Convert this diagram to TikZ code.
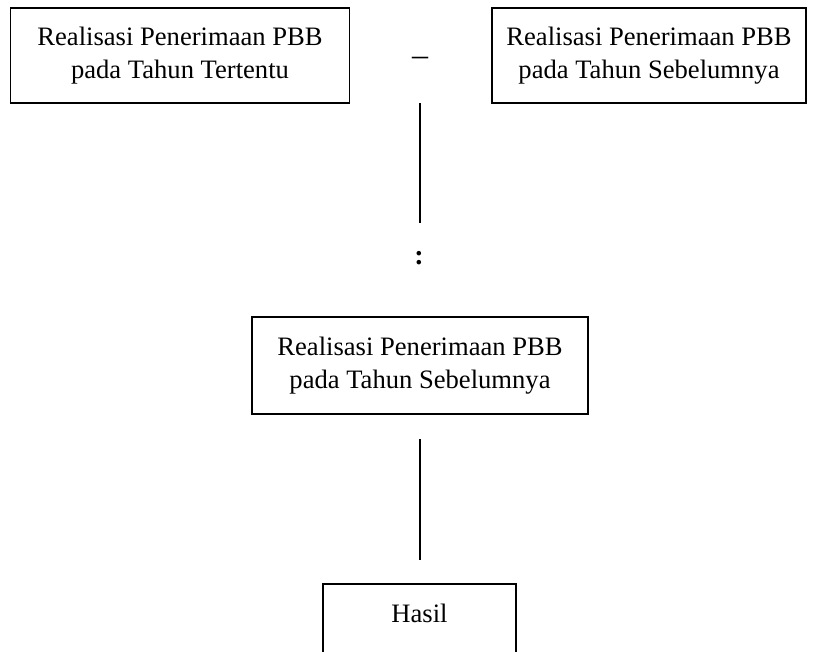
\documentclass[tikz,border=0pt]{standalone}
\usepackage{fontspec}
\setmainfont{Liberation Serif}
\begin{document}
\begin{tikzpicture}[x=1pt,y=-1pt,
  box/.style={draw,line width=1.6pt,inner sep=0pt,align=center,
    font=\fontsize{26.6}{33}\selectfont},
  lbl/.style={inner sep=0pt,font=\fontsize{26.6}{33}\selectfont},
  conn/.style={line width=1.6pt}]
\useasboundingbox (0,0) rectangle (816,651);
\clip (0,0) rectangle (816,651);
\node[box,minimum width=339pt,minimum height=95pt] (b1) at (180,55.5)
  {Realisasi Penerimaan PBB\\pada Tahun Tertentu};
\node[box,minimum width=314pt,minimum height=95pt] (b2) at (649,55.5)
  {Realisasi Penerimaan PBB\\pada Tahun Sebelumnya};
\node[lbl,font=\fontsize{32}{36}\selectfont] (minus) at (420,61) {–};
\coordinate (l1a) at (420,103);
\coordinate (l1b) at (420,223);
\draw[conn] (l1a) -- (l1b);
\node[lbl,font=\bfseries\fontsize{28}{32}\selectfont] (colon) at (419,258) {:};
\node[box,minimum width=336pt,minimum height=97pt] (b3) at (420,365.5)
  {Realisasi Penerimaan PBB\\pada Tahun Sebelumnya};
\coordinate (l2a) at (420,439);
\coordinate (l2b) at (420,560);
\draw[conn] (l2a) -- (l2b);
\node[box,minimum width=193pt,minimum height=120pt,anchor=north] (hasil) at (419.5,583) {};
\node[lbl] (hasiltxt) at (419.5,613) {Hasil};
\end{tikzpicture}
\end{document}
